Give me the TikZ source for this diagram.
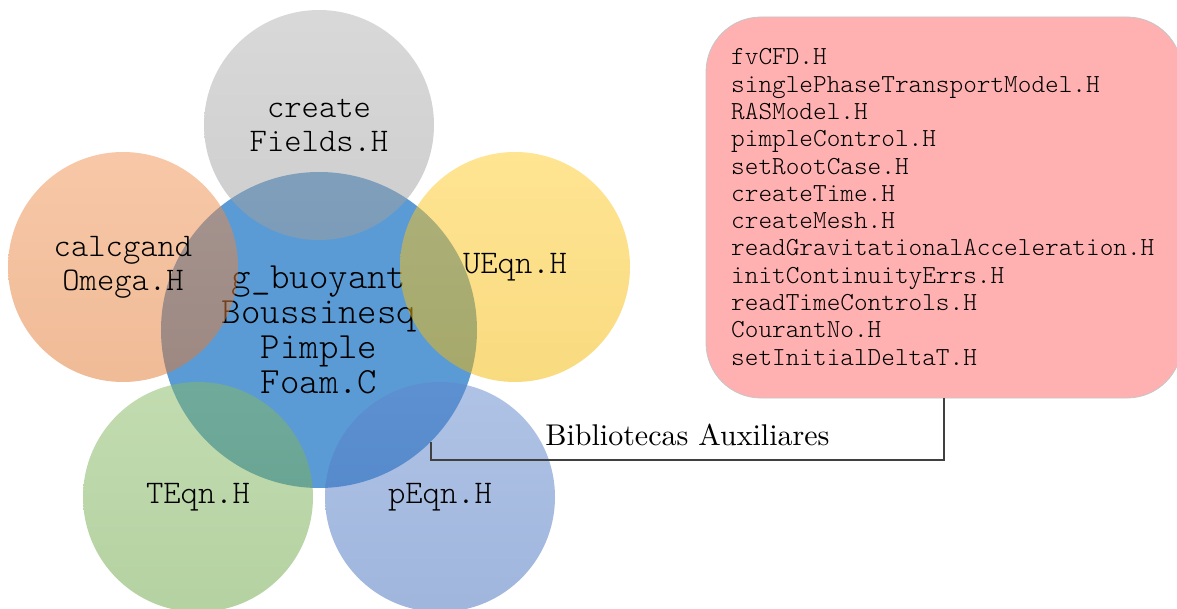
\documentclass[tikz,border=0pt]{standalone}
\usepackage{fontspec}
\setmonofont{Latin Modern Mono Light}
\definecolor{cblue}{HTML}{5B9BD5}
\definecolor{cgray}{HTML}{A5A5A5}
\definecolor{corange}{HTML}{ED7D31}
\definecolor{cyellow}{HTML}{FFC000}
\definecolor{cgreen}{HTML}{70AD47}
\definecolor{cdblue}{HTML}{4472C4}
\definecolor{boxpink}{HTML}{FFB1B1}
\begin{document}
\begin{tikzpicture}[x=1pt,y=-1pt,
  outer/.style={circle, minimum size=230pt, inner sep=0pt,
    top color=#1!85!white, bottom color=#1!95!black,
    fill opacity=0.5, text opacity=1,
    font=\ttfamily\fontsize{33}{34}\selectfont, align=center},
  centre/.style={circle, minimum size=316pt, inner sep=0pt, fill=cblue,
    font=\ttfamily\fontsize{37}{35}\selectfont, align=center},
  listbox/.style={draw=gray!45, line width=0.8pt, fill=boxpink, rounded corners=55pt,
    minimum width=476pt, minimum height=381pt, inner sep=0pt},
  listtext/.style={font=\ttfamily\fontsize{26}{27.3}\selectfont, align=left, inner sep=0pt, anchor=west},
  conn/.style={draw=black!75, line width=1.3pt},
  connlabel/.style={font=\fontsize{10}{12}\selectfont, scale=3, transform shape, inner sep=0pt}
]
\useasboundingbox (0,0) rectangle (1177,609);
\node[centre] (c) at (319,330) {g\_buoyant\\Boussinesq\\Pimple\\Foam.C};
\node[outer=cgray] (fields) at (319,125) {create\\Fields.H};
\node[outer=corange] (omega) at (123,267) {calcgand\\Omega.H};
\node[outer=cyellow] (ueqn) at (515,267) {UEqn.H};
\node[outer=cgreen] (teqn) at (198,497) {TEqn.H};
\node[outer=cdblue] (peqn) at (440,497) {pEqn.H};
\node[listbox] (box) at (944,207.5) {};
\node[listtext] (list) at (731,207) {fvCFD.H\\singlePhaseTransportModel.H\\RASModel.H\\pimpleControl.H\\setRootCase.H\\createTime.H\\createMesh.H\\readGravitationalAcceleration.H\\initContinuityErrs.H\\readTimeControls.H\\CourantNo.H\\setInitialDeltaT.H};
\coordinate (j) at ([yshift=-61.5pt]box.south);
\draw[conn] (c.-45) |- node[pos=0.75, above=12pt, connlabel] (lbl) {Bibliotecas Auxiliares} (j) -- (box.south);
\end{tikzpicture}
\end{document}
